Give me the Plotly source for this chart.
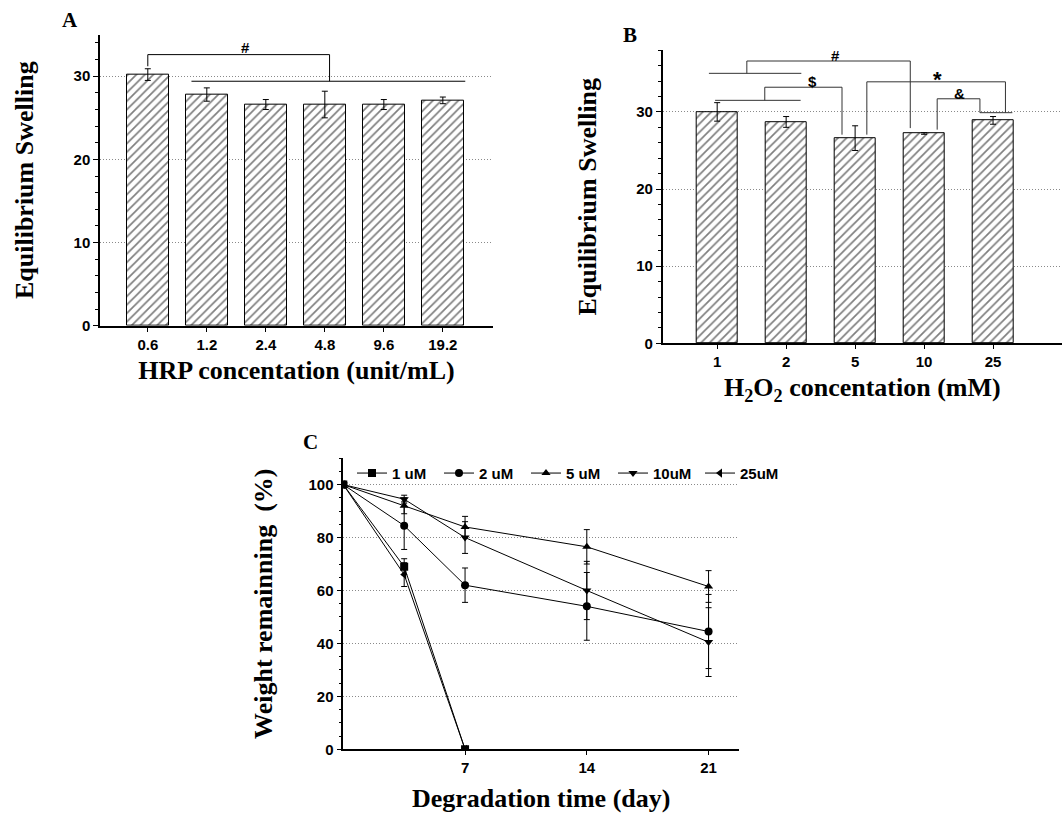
import plotly.graph_objects as go

# ---------------- data ----------------
hrp_cats = ["0.6", "1.2", "2.4", "4.8", "9.6", "19.2"]
hrp_swell = [30.2, 27.8, 26.6, 26.6, 26.6, 27.1]
hrp_err = [0.7, 0.8, 0.6, 1.6, 0.6, 0.4]

h2o2_cats = ["1", "2", "5", "10", "25"]
h2o2_swell = [30.0, 28.7, 26.6, 27.2, 28.9]
h2o2_err = [1.2, 0.7, 1.6, 0.1, 0.5]

days_short = [0, 3.5, 7]
days_long = [0, 3.5, 7, 14, 21]
w_1uM = [100, 69, 0]
e_1uM = [0, 3, 0]
w_2uM = [100, 84.5, 62, 54, 44.5]
e_2uM = [0, 9, 6.5, 12.8, 14]
w_5uM = [100, 92, 84, 76.5, 61.5]
e_5uM = [0, 3, 4, 6.5, 6]
w_10uM = [100, 94.5, 80, 60, 40.5]
e_10uM = [0, 1.5, 6, 11, 13]
w_25uM = [100, 66, 0]
e_25uM = [0, 4.5, 0]

# significance brackets (data coords: category index, value)
brackets_A = [
    [(0, 31.2), (0, 32.6), (3.08, 32.6), (3.08, 29.4)],
    [(0.74, 29.4), (5.38, 29.4)],
]
labels_A = [("#", 1.65, 33.5)]
brackets_B = [
    [(-0.12, 35.0), (1.22, 35.0)],
    [(0.43, 35.0), (0.43, 36.6), (2.80, 36.6), (2.80, 27.9)],
    [(-0.03, 31.5), (1.21, 31.5)],
    [(0.69, 31.5), (0.69, 33.2), (1.81, 33.2), (1.81, 27.05)],
    [(2.17, 27.05), (2.17, 33.9), (4.18, 33.9), (4.18, 29.9)],
    [(3.81, 29.9), (4.28, 29.9)],
    [(3.19, 27.7), (3.19, 31.7), (3.81, 31.7), (3.81, 29.9)],
]
labels_B = [("#", 1.71, 37.3, 15), ("$", 1.38, 33.9, 15), ("*", 3.2, 34.2, 22), ("&", 3.51, 32.4, 15)]

TICKFONT = dict(family="Liberation Sans", size=15, color="black", weight="bold")
TITLEFONT = dict(family="Liberation Serif", size=26, color="black", weight="bold")

fig = go.Figure()

bar_style = dict(
    marker=dict(color="white", line=dict(color="black", width=1),
                pattern=dict(shape="/", fgcolor="black", bgcolor="white", size=6, solidity=0.28)),
    showlegend=False,
)
err_style = dict(type="data", color="black", thickness=1, width=3, visible=True)

fig.add_trace(go.Bar(x=list(range(len(hrp_cats))), y=hrp_swell, error_y=dict(array=hrp_err, **err_style),
                     width=0.71, xaxis="x", yaxis="y", **bar_style))
fig.add_trace(go.Bar(x=list(range(len(h2o2_cats))), y=h2o2_swell, error_y=dict(array=h2o2_err, **err_style),
                     width=0.6, xaxis="x2", yaxis="y2", **bar_style))

series = [
    ("1 uM", days_short, w_1uM, e_1uM, "square"),
    ("2 uM", days_long, w_2uM, e_2uM, "circle"),
    ("5 uM", days_long, w_5uM, e_5uM, "triangle-up"),
    ("10uM", days_long, w_10uM, e_10uM, "triangle-down"),
    ("25uM", days_short, w_25uM, e_25uM, "triangle-left"),
]
for name, xs, ys, es, sym in series:
    fig.add_trace(go.Scatter(
        x=xs, y=ys, name=name, mode="lines+markers", xaxis="x3", yaxis="y3",
        line=dict(color="black", width=1),
        marker=dict(symbol=sym, size=8, color="black"),
        error_y=dict(array=es, **err_style),
    ))

W, H = 1062, 815
def dx(a, b):
    return [a / W, b / W]
def dy(top, bottom):
    return [1 - bottom / H, 1 - top / H]

common_x = dict(showline=True, linecolor="black", linewidth=1.5, ticks="outside", ticklen=4,
                tickcolor="black", tickfont=TICKFONT, showgrid=False, zeroline=False, title_font=TITLEFONT)
common_y = dict(showline=True, linecolor="black", linewidth=1.5, ticks="outside", ticklen=5,
                tickcolor="black", tickfont=TICKFONT, showgrid=True, gridcolor="#8a8a8a", griddash="1px,2px",
                gridwidth=1, zeroline=False, title_font=TITLEFONT,
                minor=dict(ticks="outside", ticklen=3, tickcolor="black", showgrid=False))

fig.update_layout(
    width=W, height=H, margin=dict(l=0, r=0, t=0, b=0),
    paper_bgcolor="white", plot_bgcolor="white", bargap=0,
    xaxis=dict(domain=dx(100, 493), anchor="y", range=[-0.81, 5.85],
               tickvals=list(range(len(hrp_cats))), ticktext=hrp_cats,
               title=dict(text="HRP concentation (unit/mL)", standoff=9), **common_x),
    yaxis=dict(domain=dy(35, 329), anchor="x", range=[0, 35], dtick=10,
               title=dict(text="Equilibrium Swelling", standoff=32), **common_y),
    xaxis2=dict(domain=dx(662.7, 1062), anchor="y2", range=[-0.79, 5.0],
                tickvals=list(range(len(h2o2_cats))), ticktext=h2o2_cats,
                title=dict(text="H<sub>2</sub>O<sub>2</sub> concentation (mM)", standoff=9), **common_x),
    yaxis2=dict(domain=dy(50.7, 346.7), anchor="x2", range=[0, 38], dtick=10,
                title=dict(text="Equilibrium Swelling", standoff=32), **common_y),
    xaxis3=dict(domain=dx(343.3, 739), anchor="y3", range=[0, 22.75],
                tickvals=[7, 14, 21],
                title=dict(text="Degradation time (day)", standoff=14), **common_x),
    yaxis3=dict(domain=dy(462.7, 756.7), anchor="x3", range=[0, 110], dtick=20,
                title=dict(text="Weight remainning  (%)", standoff=28), **common_y),
    legend=dict(orientation="h", x=352 / W, xanchor="left", y=1 - 478 / H, yanchor="middle",
                font=dict(family="Liberation Sans", size=15, color="black", weight="bold"),
                bgcolor="rgba(0,0,0,0)", itemwidth=30, entrywidth=42, tracegroupgap=0),
)

shapes = []
for pts in brackets_A:
    path = "M " + " L ".join(f"{x},{y}" for x, y in pts)
    shapes.append(dict(type="path", path=path, xref="x", yref="y", line=dict(color="black", width=1)))
for pts in brackets_B:
    path = "M " + " L ".join(f"{x},{y}" for x, y in pts)
    shapes.append(dict(type="path", path=path, xref="x2", yref="y2", line=dict(color="#333333", width=1)))
fig.update_layout(shapes=shapes)

ann = []
for t, x, y in labels_A:
    ann.append(dict(text=t, x=x, y=y, xref="x", yref="y", showarrow=False,
                    font=dict(family="Liberation Sans", size=15, color="black", weight="bold")))
for t, x, y, s in labels_B:
    ann.append(dict(text=t, x=x, y=y, xref="x2", yref="y2", showarrow=False,
                    font=dict(family="Liberation Sans", size=s, color="black", weight="bold")))
for t, x, y in [("A", 70, 20), ("B", 630, 35), ("C", 310, 446)]:
    ann.append(dict(text=t, x=x / W, y=1 - y / H, xref="paper", yref="paper", showarrow=False,
                    xanchor="center", yanchor="middle",
                    font=dict(family="Liberation Serif", size=21, color="black", weight="bold")))
fig.update_layout(annotations=ann)

fig.write_html("out.html")
